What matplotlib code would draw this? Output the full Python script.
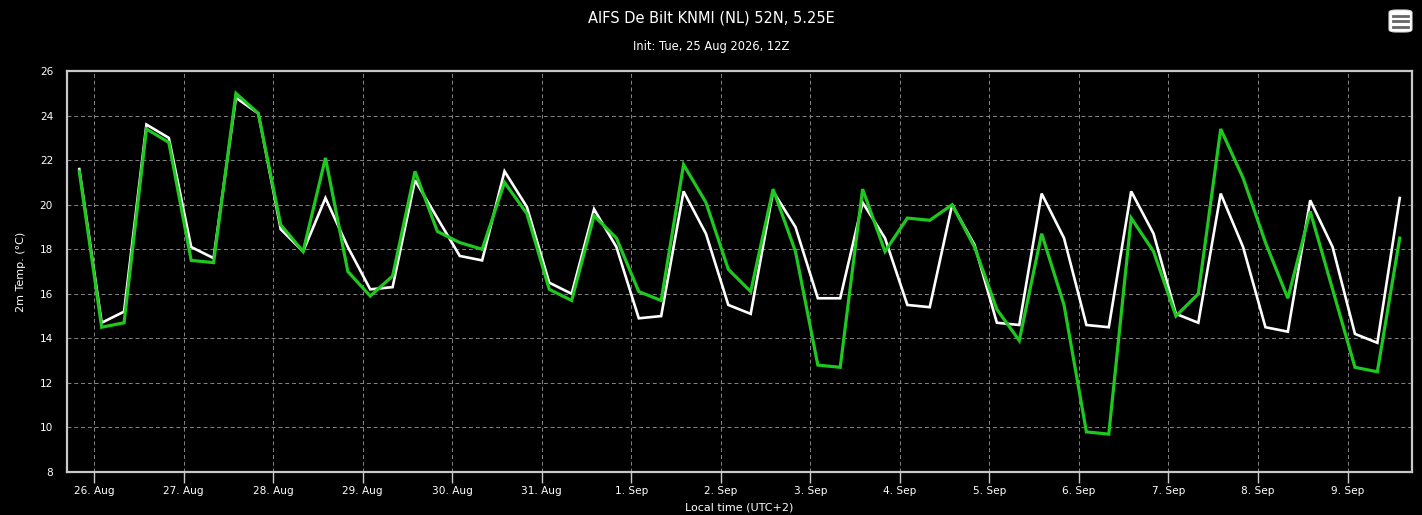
import numpy as np
import pandas as pd
import matplotlib
matplotlib.use("Agg")
import matplotlib.pyplot as plt
import matplotlib.dates as mdates
from matplotlib.patches import FancyBboxPatch

# --- data: 6-hourly, local time (UTC+2) ---
start = "2026-08-25 20:00"
n_steps = 60

white_vals = [21.6, 14.7, 15.2, 23.6, 23.0, 18.1, 17.6, 24.8, 24.1, 18.9,
              17.9, 20.3, 18.1, 16.2, 16.3, 21.1, 19.4, 17.7, 17.5, 21.5,
              19.9, 16.5, 16.0, 19.8, 18.1, 14.9, 15.0, 20.6, 18.7, 15.5,
              15.1, 20.6, 19.0, 15.8, 15.8, 20.1, 18.5, 15.5, 15.4, 20.0,
              18.2, 14.7, 14.6, 20.5, 18.5, 14.6, 14.5, 20.6, 18.7, 15.1,
              14.7, 20.5, 18.1, 14.5, 14.3, 20.2, 18.1, 14.2, 13.8, 20.3]

green_vals = [21.5, 14.5, 14.7, 23.4, 22.8, 17.5, 17.4, 25.0, 24.1, 19.1,
              17.9, 22.1, 17.0, 15.9, 16.8, 21.5, 18.8, 18.3, 18.0, 21.0,
              19.6, 16.2, 15.7, 19.5, 18.5, 16.1, 15.7, 21.8, 20.1, 17.1,
              16.1, 20.7, 17.9, 12.8, 12.7, 20.7, 17.9, 19.4, 19.3, 20.0,
              18.1, 15.3, 13.9, 18.7, 15.5, 9.8, 9.7, 19.4, 17.9, 15.0,
              16.0, 23.4, 21.2, 18.3, 15.8, 19.7, 16.2, 12.7, 12.5, 18.5]

day_ticks = pd.date_range("2026-08-26", "2026-09-09", freq="D")
tick_labels = [f"{d.day}. {d.strftime('%b')}" for d in day_ticks]
y_ticks = [8, 10, 12, 14, 16, 18, 20, 22, 24, 26]

times = pd.date_range(start, periods=n_steps, freq="6h")

plt.rcParams['font.family'] = ['DejaVu Sans']

fig = plt.figure(figsize=(14.22, 5.15), dpi=100, facecolor='black')
ax = fig.add_axes([0.0471, 0.0835, 0.9459, 0.7785], facecolor='black')

ax.plot(times, white_vals, color='white', lw=1.9, solid_joinstyle='miter', zorder=3)
ax.plot(times, green_vals, color='#1ec81e', lw=2.3, solid_joinstyle='miter', zorder=4)

pad = pd.Timedelta(hours=3.3)
ax.set_xlim(times[0] - pad, times[-1] + pad)
ax.set_ylim(8, 26)

ax.set_xticks(day_ticks)
ax.set_xticklabels(tick_labels)
ax.set_yticks(y_ticks)

ax.grid(True, color='#858585', ls=(0, (4, 3)), lw=0.7)
ax.set_axisbelow(True)

for s in ax.spines.values():
    s.set_color('#c8c8c8')
    s.set_linewidth(1.6)

ax.tick_params(axis='x', colors='white', labelsize=7.6, length=8, width=1,
               color='#c8c8c8', pad=2)
ax.tick_params(axis='y', colors='white', labelsize=7.6, length=0, pad=10)

ax.set_ylabel('2m Temp. (°C)', color='white', fontsize=8, labelpad=10)
ax.set_xlabel('Local time (UTC+2)', color='white', fontsize=8, labelpad=5)

fig.text(0.5, 0.965, 'AIFS De Bilt KNMI (NL) 52N, 5.25E', color='white',
         fontsize=10.5, ha='center', va='center')
fig.text(0.5, 0.91, 'Init: Tue, 25 Aug 2026, 12Z', color='white',
         fontsize=8.3, ha='center', va='center')

# menu button top right
btn = FancyBboxPatch((1389 / 1422, 1 - 32 / 515), 23 / 1422, 22 / 515,
                     boxstyle="round,pad=0,rounding_size=0.005",
                     transform=fig.transFigure, facecolor='white',
                     edgecolor='#dddddd', lw=0.8)
fig.patches.append(btn)
for yy in (15.5, 21, 26.5):
    fig.lines.append(plt.Line2D([1393 / 1422, 1408 / 1422], [1 - yy / 515] * 2,
                                transform=fig.transFigure, color='#666666', lw=2))

fig.savefig('out.png', dpi=100, facecolor='black')
